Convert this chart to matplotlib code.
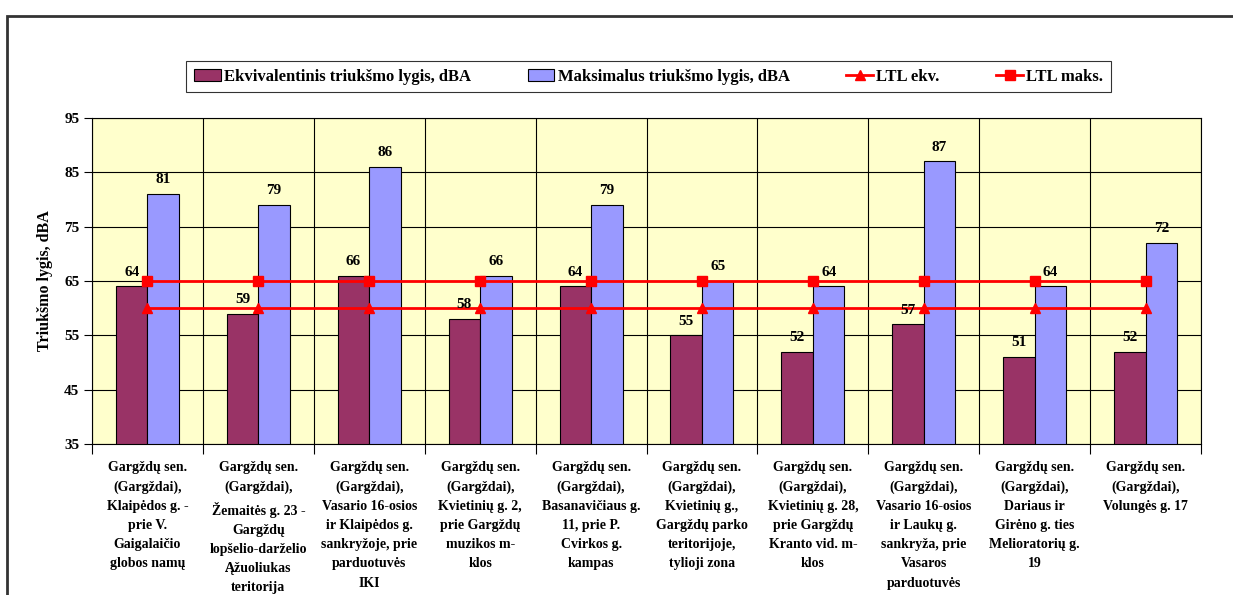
import matplotlib
matplotlib.use('Agg')
from matplotlib import pyplot as plt
from matplotlib.patches import Rectangle, Patch
from matplotlib.lines import Line2D
import numpy as np

places = [
    'Gargždų sen.\n(Gargždai),\nKlaipėdos g. -\nprie V.\nGaigalaičio\nglobos namų',
    'Gargždų sen.\n(Gargždai),\nŽemaitės g. 23 -\nGargždų\nlopšelio-darželio\nĄžuoliukas\nteritorija',
    'Gargždų sen.\n(Gargždai),\nVasario 16-osios\nir Klaipėdos g.\nsankryžoje, prie\nparduotuvės\nIKI',
    'Gargždų sen.\n(Gargždai),\nKvietinių g. 2,\nprie Gargždų\nmuzikos m-\nklos',
    'Gargždų sen.\n(Gargždai),\nBasanavičiaus g.\n11, prie P.\nCvirkos g.\nkampas',
    'Gargždų sen.\n(Gargždai),\nKvietinių g.,\nGargždų parko\nteritorijoje,\ntylioji zona',
    'Gargždų sen.\n(Gargždai),\nKvietinių g. 28,\nprie Gargždų\nKranto vid. m-\nklos',
    'Gargždų sen.\n(Gargždai),\nVasario 16-osios\nir Laukų g.\nsankryža, prie\nVasaros\nparduotuvės',
    'Gargždų sen.\n(Gargždai),\nDariaus ir\nGirėno g. ties\nMelioratorių g.\n19',
    'Gargždų sen.\n(Gargždai),\nVolungės g. 17',
]
ekv = [64, 59, 66, 58, 64, 55, 52, 57, 51, 52]
maks = [81, 79, 86, 66, 79, 65, 64, 87, 64, 72]
ltl_ekv = [60] * 10
ltl_maks = [65] * 10

plt.rcParams['font.family'] = ['Liberation Serif', 'DejaVu Serif']
plt.rcParams['font.weight'] = 'bold'
plt.rcParams['font.size'] = 10

fig = plt.figure(figsize=(12.33, 5.95), dpi=100)
ax = fig.add_axes([0.0746, 0.2538, 0.8995, 0.5479])
ax.set_facecolor('#FFFFCC')

x = np.arange(len(places))
w = 0.284
ax.bar(x - w / 2, [v - 35 for v in ekv], w, bottom=35, color='#993366',
       edgecolor='black', linewidth=0.8, zorder=3)
ax.bar(x + w / 2, [v - 35 for v in maks], w, bottom=35, color='#9999FF',
       edgecolor='black', linewidth=0.8, zorder=3)
for xi, v in zip(x, ekv):
    ax.annotate(str(v), (xi - w / 2, v), xytext=(0, 5.5), textcoords='offset points',
                ha='center', va='bottom', fontsize=11, fontweight='bold', zorder=5)
for xi, v in zip(x, maks):
    ax.annotate(str(v), (xi + w / 2, v), xytext=(0, 5.5), textcoords='offset points',
                ha='center', va='bottom', fontsize=11, fontweight='bold', zorder=5)

ax.plot(x, ltl_ekv, color='red', linewidth=2, marker='^', markersize=7, zorder=4)
ax.plot(x, ltl_maks, color='red', linewidth=2, marker='s', markersize=7, zorder=4)

ax.set_xlim(-0.5, len(places) - 0.5)
ax.set_ylim(35, 95)
ax.set_yticks(range(35, 96, 10))
ax.set_xticks(x)
ax.set_xticklabels(places, fontsize=10, fontweight='bold', linespacing=1.62)
ax.set_xticks(np.arange(-0.5, len(places), 1), minor=True)
ax.tick_params(axis='x', which='major', length=0, pad=12)
ax.tick_params(axis='x', which='minor', length=7, direction='out', width=0.8)
ax.tick_params(axis='y', length=6, width=0.8, labelsize=11, pad=3)
ax.grid(axis='y', which='major', color='black', linewidth=0.8, zorder=1)
ax.grid(axis='x', which='minor', color='black', linewidth=0.8, zorder=1)
ax.set_axisbelow(True)
for s in ax.spines.values():
    s.set_linewidth(0.8)
ax.set_ylabel('Triukšmo lygis, dBA', fontsize=11.5, fontweight='bold', labelpad=8)

handles = [
    Patch(facecolor='#993366', edgecolor='black', linewidth=0.8),
    Patch(facecolor='#9999FF', edgecolor='black', linewidth=0.8),
    Line2D([], [], color='red', linewidth=2, marker='^', markersize=7),
    Line2D([], [], color='red', linewidth=2, marker='s', markersize=7),
]
labels = ['Ekvivalentinis triukšmo lygis, dBA', 'Maksimalus triukšmo lygis, dBA',
          'LTL ekv.', 'LTL maks.']
leg = fig.legend(handles, labels, loc='center', bbox_to_anchor=(0.526, 0.871), ncol=4,
                 frameon=True, fancybox=False, edgecolor='black', fontsize=12,
                 handlelength=1.6, handletextpad=0.2, columnspacing=3.4,
                 borderpad=0.45)
leg.get_frame().set_linewidth(0.8)

fig.patches.append(Rectangle((0.0057, -0.5), 2, 1.473, transform=fig.transFigure,
                             fill=False, edgecolor='#333333', linewidth=2))

fig.savefig('out.png', dpi=100)
